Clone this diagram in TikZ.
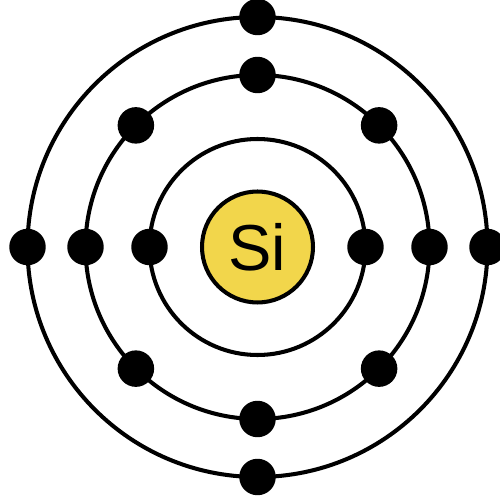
\documentclass[tikz,border=0pt]{standalone}
\usepackage{fontspec}
\setmainfont{Liberation Sans}
\usetikzlibrary{calc}
\definecolor{siYellow}{HTML}{F2D64B}
\tikzset{
  shell/.style={black, line width=2.3pt},
  electron/.style={circle, fill=black, inner sep=0pt, minimum size=0.73cm},
  nucleus/.style={circle, draw=black, line width=2.3pt, fill=siYellow,
    inner sep=0pt, minimum size=2.22cm, font=\fontsize{37}{40}\selectfont}
}

\begin{document}
\begin{tikzpicture}[x=0.02cm, y=0.02cm]
  \clip (0,0) rectangle (500,501);
  \coordinate (c) at (257.5,254);

  % shells
  \draw[shell] (c) circle (108);
  \draw[shell] (c) circle (172);
  \draw[shell] (c) circle (230);

  % nucleus
  \node[nucleus] (si) at (c) {Si};

  % electrons: 2, 8, 4
  \foreach \a in {0,180}
    \node[electron] (e1-\a) at ($(c)+(\a:108)$) {};
  \foreach \a in {0,45,...,315}
    \node[electron] (e2-\a) at ($(c)+(\a:172)$) {};
  \foreach \a in {0,90,180,270}
    \node[electron] (e3-\a) at ($(c)+(\a:230)$) {};
\end{tikzpicture}
\end{document}
